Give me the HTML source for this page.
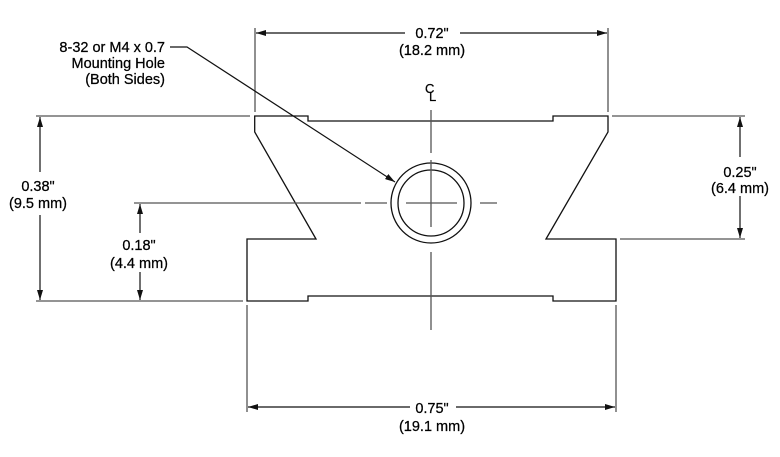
<!DOCTYPE html>
<html><head><meta charset="utf-8"><style>
html,body{margin:0;padding:0;background:#fff;}
svg{display:block;}
text{font-family:"Liberation Sans",Arial,sans-serif;font-size:14.5px;fill:#000;stroke:#000;stroke-width:0.25;}
</style></head><body>
<svg width="780" height="457" viewBox="0 0 780 457" xmlns="http://www.w3.org/2000/svg">
<defs>
<marker id="a" viewBox="0 0 10 6" refX="10" refY="3" markerWidth="10" markerHeight="6" orient="auto-start-reverse" markerUnits="userSpaceOnUse">
<path d="M0,0 L10,3 L0,6 z" fill="#111"/></marker>
</defs>
<g fill="none" stroke="#111" stroke-width="1.3">
<path d="M254.7,116 H308 V121 H553 V116 H608 V132 L546,239 H616 V301 H553 V296 H308 V301 H247 V239 H316 L254.7,132 Z"/>
<circle cx="431" cy="203" r="40"/>
<circle cx="431" cy="203" r="33"/>
</g>
<g stroke="#555" stroke-width="1.3" fill="none">
<path d="M431,110 V153 M431,160 V227 M431,252 V330"/>
<path d="M134,203 H361 M365,203 H387 M406,203 H457 M480,203 H497"/>
<path d="M255,28 V112 M608,28 V112"/>
<path d="M247,305 V412 M616,305 V412"/>
<path d="M36,116 H250 M36,301 H243"/>
<path d="M612,116 H745 M620,239 H745"/>
</g>
<g stroke="#111" stroke-width="1.2" fill="none">
<line x1="256" y1="33" x2="405" y2="33" marker-start="url(#a)"/>
<line x1="460" y1="33" x2="607" y2="33" marker-end="url(#a)"/>
<line x1="248" y1="407" x2="410" y2="407" marker-start="url(#a)"/>
<line x1="456" y1="407" x2="615" y2="407" marker-end="url(#a)"/>
<line x1="40" y1="117" x2="40" y2="172" marker-start="url(#a)"/>
<line x1="40" y1="215" x2="40" y2="300" marker-end="url(#a)"/>
<line x1="140" y1="204" x2="140" y2="233" marker-start="url(#a)"/>
<line x1="140" y1="272" x2="140" y2="300" marker-end="url(#a)"/>
<line x1="740" y1="117" x2="740" y2="157" marker-start="url(#a)"/>
<line x1="740" y1="196" x2="740" y2="238" marker-end="url(#a)"/>
<path d="M170,47 H187 L395,182" marker-end="url(#a)"/>
</g>
<g text-anchor="middle">
<text x="432" y="38">0.72"</text>
<text x="432" y="55">(18.2 mm)</text>
<text x="432" y="413">0.75"</text>
<text x="432" y="431">(19.1 mm)</text>
<text x="38" y="191">0.38"</text>
<text x="38" y="208">(9.5 mm)</text>
<text x="139" y="250">0.18"</text>
<text x="139" y="268">(4.4 mm)</text>
<text x="740" y="177">0.25"</text>
<text x="740" y="193">(6.4 mm)</text>
</g>
<g text-anchor="end">
<text x="165" y="52">8-32 or M4 x 0.7</text>
<text x="165" y="68">Mounting Hole</text>
<text x="165" y="84">(Both Sides)</text>
</g>
<text x="425" y="93" style="font-size:13px">C</text>
<text x="429" y="101" style="font-size:13px">L</text>
</svg>
</body></html>
